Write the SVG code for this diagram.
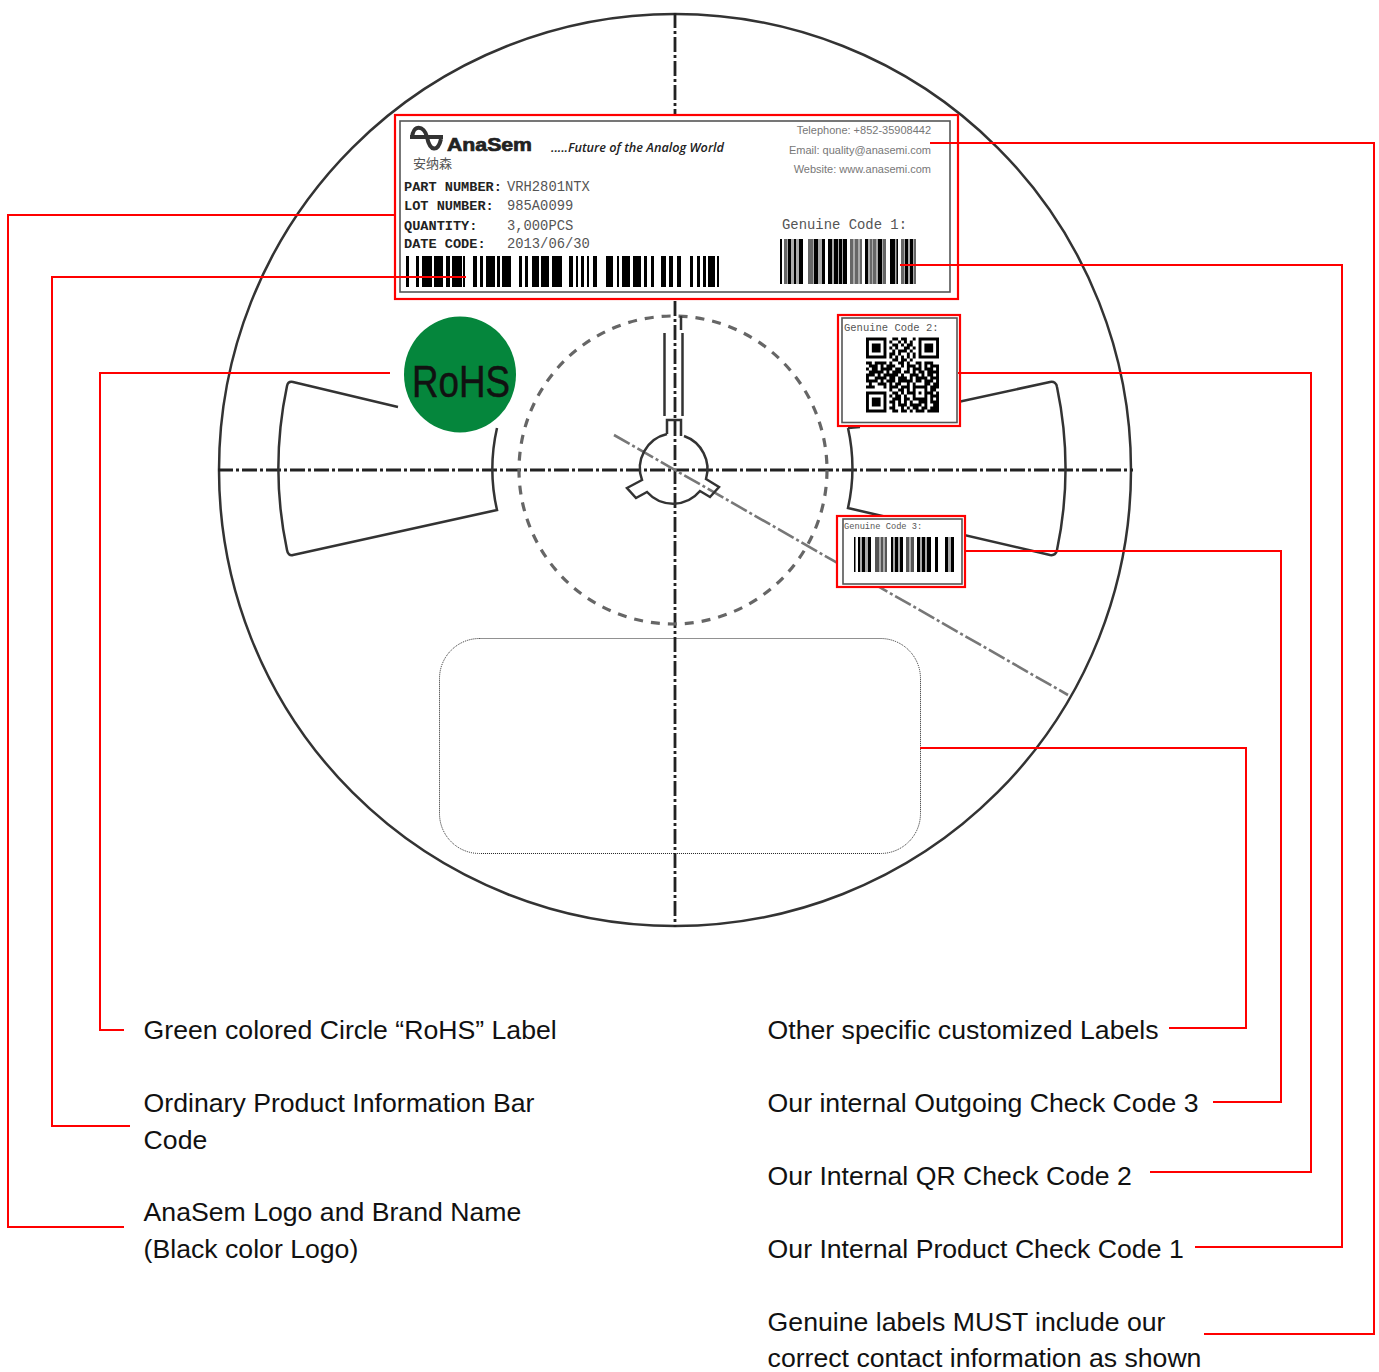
<svg xmlns="http://www.w3.org/2000/svg" width="1379" height="1372" viewBox="0 0 1379 1372">
<style>
.cap{font-family:"Liberation Sans",Arial,sans-serif;font-size:26.65px;fill:#111}
.draw{fill:none;stroke:#333;stroke-width:2.5}
.cl{fill:none;stroke:#222;stroke-width:2.8;stroke-dasharray:15 3 3 3}
.red{fill:#fff;stroke:#f00;stroke-width:2.2}
.inner{fill:#fff;stroke:#555;stroke-width:1.6}
.conn{fill:none;stroke:#f00;stroke-width:2}
.mono{font-family:"Liberation Mono",monospace;fill:#555}
.monob{font-family:"Liberation Mono",monospace;font-weight:700;font-size:13.6px;fill:#222}
.contact{font-family:"Liberation Sans",Arial,sans-serif;font-size:11px;fill:#777;text-anchor:end}
.val{font-family:"Liberation Mono",monospace;font-size:13.8px;fill:#555}
</style>
<rect width="1379" height="1372" fill="#fff"/>
<g id="reel">
<circle class="draw" cx="675" cy="470" r="456"/>
<path class="cl" d="M218 470H1133M675 13V927"/>
<circle cx="673" cy="470" r="154" fill="none" stroke="#666" stroke-width="3.2" stroke-dasharray="9 8"/>
<path d="M614 435L1068 695" fill="none" stroke="#777" stroke-width="2.6" stroke-dasharray="18 3 3 3"/>
<path class="draw" d="M664.500 333V416M682.500 333V416M681 316V330"/>
<path class="draw" d="M667 434V420H681V436M667 434A35 35 0 0 0 642 480L627 488L636 498L647 492A35 35 0 0 0 700 491L710 497L719 487L706 479A35 35 0 0 0 684 436"/>
<path class="draw" d="M398 407L293 382Q288 381 287 386A397 397 0 0 0 287 550Q288 556 293 555L497 510A184 184 0 0 1 497 428"/>
<path class="draw" d="M848 428L860 427M848 428A184 184 0 0 1 848 508L1050 555Q1056 556 1057 550A397 397 0 0 0 1057 387Q1056 381 1050 382L958 402"/>
<rect x="439.500" y="638.500" width="481" height="215" rx="40" fill="none" stroke="#222" stroke-width="1" stroke-dasharray="1 1"/>
</g>
<g id="rohs-label">
<ellipse cx="460" cy="374.500" rx="56" ry="58" fill="#05863c"/>
<text x="412" y="397" font-family="'Liberation Sans',Arial,sans-serif" font-size="45" fill="#111" stroke="#111" stroke-width=".5" textLength="98" lengthAdjust="spacingAndGlyphs">RoHS</text>
</g>
<g id="main-label">
<rect class="red" x="395" y="115" width="563" height="184"/>
<rect class="inner" x="400" y="121" width="550" height="171"/>
<path d="M412 138C413 124 424 125 427 137C430 152 438 152 441 139M410 137H443" fill="none" stroke="#333" stroke-width="4"/>
<text x="447" y="151" font-family="'Liberation Sans',Arial,sans-serif" font-weight="700" font-size="19" fill="#222" stroke="#222" stroke-width=".7" textLength="85" lengthAdjust="spacingAndGlyphs">AnaSem</text>
<text x="413" y="168" font-family="'Noto Sans CJK SC',sans-serif" font-size="13" fill="#555">安纳森</text>
<text x="551" y="152" font-family="'Open Sans',sans-serif" font-style="italic" font-weight="600" font-size="13" fill="#222" textLength="173" lengthAdjust="spacingAndGlyphs">.....Future of the Analog World</text>
<text class="contact" x="931" y="134">Telephone: +852-35908442</text>
<text class="contact" x="931" y="154">Email: quality@anasemi.com</text>
<text class="contact" x="931" y="173">Website: www.anasemi.com</text>
<text class="monob" x="404" y="191">PART NUMBER:</text>
<text class="monob" x="404" y="210">LOT NUMBER:</text>
<text class="monob" x="404" y="230">QUANTITY:</text>
<text class="monob" x="404" y="248">DATE CODE:</text>
<text class="val" x="507" y="191">VRH2801NTX</text>
<text class="val" x="507" y="210">985A0099</text>
<text class="val" x="507" y="230">3,000PCS</text>
<text class="val" x="507" y="248">2013/06/30</text>
<text class="mono" x="782" y="229" font-size="13.900">Genuine Code 1:</text>
<path d="M406 271.500H720" fill="none" stroke="#000" stroke-width="31" stroke-dasharray="3 7 3 3 10 2 9 3 4 2 10 1 2 8 4 3 3 3 9 2 3 2 9 8 3 3 3 4 7 2 8 3 10 7 4 3 2 3 3 3 2 4 4 9 7 4 2 3 8 3 8 3 3 4 3 7 5 3 4 4 4 9 3 4 3 3 3 2 7 2 2 100"/>
<path d="M784 261.500H916" fill="none" stroke="#aaa" stroke-width="45" stroke-dasharray="19 5 17 3 19 3 12 3 21 4 8 3 15 100"/>
<path d="M780 261.500H916" fill="none" stroke="#000" stroke-width="45" stroke-dasharray="2 6 3 3 2 3 4 11 4 4 3 3 4 2 4 1 3 1 4 18 3 10 4 8 5 1.500 1.500 7 3 2 3 100"/>
<path d="M784 261.500H916" fill="none" stroke="#666" stroke-width="45" stroke-dasharray="3 21 5 37 3 2 3 2 2 8 2 1 3 7 3 15 3 10 2 100"/>
</g>
<g id="genuine-code-2">
<rect class="red" x="838" y="315" width="122" height="111"/>
<rect class="inner" x="842" y="318" width="115" height="104.500"/>
<text class="mono" x="844" y="331" font-size="10.500">Genuine Code 2:</text>
<g transform="translate(866 337.500) scale(2.920 3)">
<g fill="none" stroke="#000" stroke-width="1">
<rect x=".5" y=".5" width="6" height="6"/><rect x="18.500" y=".5" width="6" height="6"/><rect x=".5" y="18.500" width="6" height="6"/>
<path d="M9 .5h2M12 .5h2M16 .5h1M8 1.500h1M11 1.500h1M13 1.500h1M15 1.500h1M9 2.500h2M12 2.500h1M14 2.500h2M8 3.500h1M10 3.500h1M13 3.500h2M16 3.500h1M9 4.500h1M11 4.500h3M15 4.500h1M8 5.500h2M11 5.500h1M14 5.500h1M16 5.500h1M8 6.500h1M10 6.500h1M12 6.500h1M14 6.500h1M16 6.500h1M9 7.500h2M12 7.500h2M15 7.500h1M0 8.500h2M3 8.500h3M6 8.500h1M8 8.500h1M11 8.500h2M14 8.500h1M17 8.500h2M20 8.500h3M1 9.500h3M5 9.500h1M7 9.500h3M12 9.500h1M14 9.500h3M18 9.500h1M20 9.500h1M22 9.500h3M0 10.500h1M2 10.500h2M5 10.500h4M10 10.500h2M14 10.500h1M16 10.500h3M20 10.500h3M24 10.500h1M1 11.500h5M7 11.500h1M9 11.500h3M13 11.500h2M16 11.500h1M18 11.500h2M21 11.500h4M0 12.500h3M4 12.500h1M6 12.500h5M12 12.500h1M15 12.500h3M19 12.500h1M21 12.500h2M24 12.500h1M0 13.500h1M3 13.500h4M8 13.500h2M11 13.500h3M15 13.500h1M17 13.500h4M22 13.500h3M0 14.500h4M5 14.500h1M7 14.500h3M11 14.500h5M17 14.500h2M20 14.500h3M24 14.500h1M1 15.500h1M4 15.500h3M8 15.500h1M10 15.500h2M14 15.500h1M16 15.500h1M20 15.500h2M23 15.500h2M0 16.500h3M6 16.500h1M8 16.500h3M12 16.500h3M16 16.500h5M22 16.500h3M8 17.500h1M11 17.500h2M14 17.500h1M16 17.500h1M20 17.500h1M22 17.500h2M9 18.500h2M12 18.500h1M14 18.500h2M16 18.500h1M18 18.500h1M20 18.500h3M24 18.500h1M8 19.500h1M10 19.500h2M13 19.500h1M16 19.500h1M20 19.500h1M22 19.500h3M9 20.500h3M13 20.500h2M16 20.500h5M22 20.500h1M24 20.500h1M8 21.500h2M11 21.500h1M13 21.500h1M15 21.500h1M18 21.500h3M22 21.500h3M9 22.500h1M11 22.500h3M15 22.500h4M20 22.500h1M23 22.500h2M8 23.500h2M12 23.500h1M14 23.500h1M16 23.500h2M19 23.500h2M22 23.500h3M9 24.500h2M12 24.500h2M15 24.500h1M17 24.500h3M21 24.500h4"/>
</g>
<rect x="2" y="2" width="3" height="3"/><rect x="20" y="2" width="3" height="3"/><rect x="2" y="20" width="3" height="3"/>
</g>
</g>
<g id="genuine-code-3">
<rect class="red" x="837" y="516" width="128" height="71"/>
<rect class="inner" x="843" y="519" width="119" height="65"/>
<text class="mono" x="844" y="529" font-size="8.700">Genuine Code 3:</text>
<path d="M858 554.500H954" fill="none" stroke="#aaa" stroke-width="35" stroke-dasharray="13 4 12 4 12 3 8 3 14 4 3 7 9 100"/>
<path d="M854 554.500H954" fill="none" stroke="#000" stroke-width="35" stroke-dasharray="1.500 2.500 2 2 3 3 3 20 2 2 3 2 3 14 3 2 3 2 4 4 3 7 3 3 3 100"/>
<path d="M875 554.500H914" fill="none" stroke="#555" stroke-width="35" stroke-dasharray="4 2 2 2 2 19 3 2 3 100"/>
</g>
<g id="connectors">
<path class="conn" d="M395 215H8V1227H124"/>
<path class="conn" d="M466 277H52V1126H130"/>
<path class="conn" d="M390 373H100V1030H124"/>
<path class="conn" d="M920 748H1246V1028H1169"/>
<path class="conn" d="M965 551H1281V1102H1213"/>
<path class="conn" d="M958 373H1311V1172H1150"/>
<path class="conn" d="M900 265H1342V1247H1195"/>
<path class="conn" d="M930 143H1374V1334H1204"/>
</g>
<g id="captions">
<text class="cap" x="143.600" y="1039">Green colored Circle “RoHS” Label</text>
<text class="cap" x="143.600" y="1112">Ordinary Product Information Bar</text>
<text class="cap" x="143.600" y="1149">Code</text>
<text class="cap" x="143.600" y="1221">AnaSem Logo and Brand Name</text>
<text class="cap" x="143.600" y="1258">(Black color Logo)</text>
<text class="cap" x="767.600" y="1039">Other specific customized Labels</text>
<text class="cap" x="767.600" y="1112">Our internal Outgoing Check Code 3</text>
<text class="cap" x="767.600" y="1185">Our Internal QR Check Code 2</text>
<text class="cap" x="767.600" y="1258">Our Internal Product Check Code 1</text>
<text class="cap" x="767.600" y="1331">Genuine labels MUST include our</text>
<text class="cap" x="767.600" y="1367">correct contact information as shown</text>
</g>
</svg>
